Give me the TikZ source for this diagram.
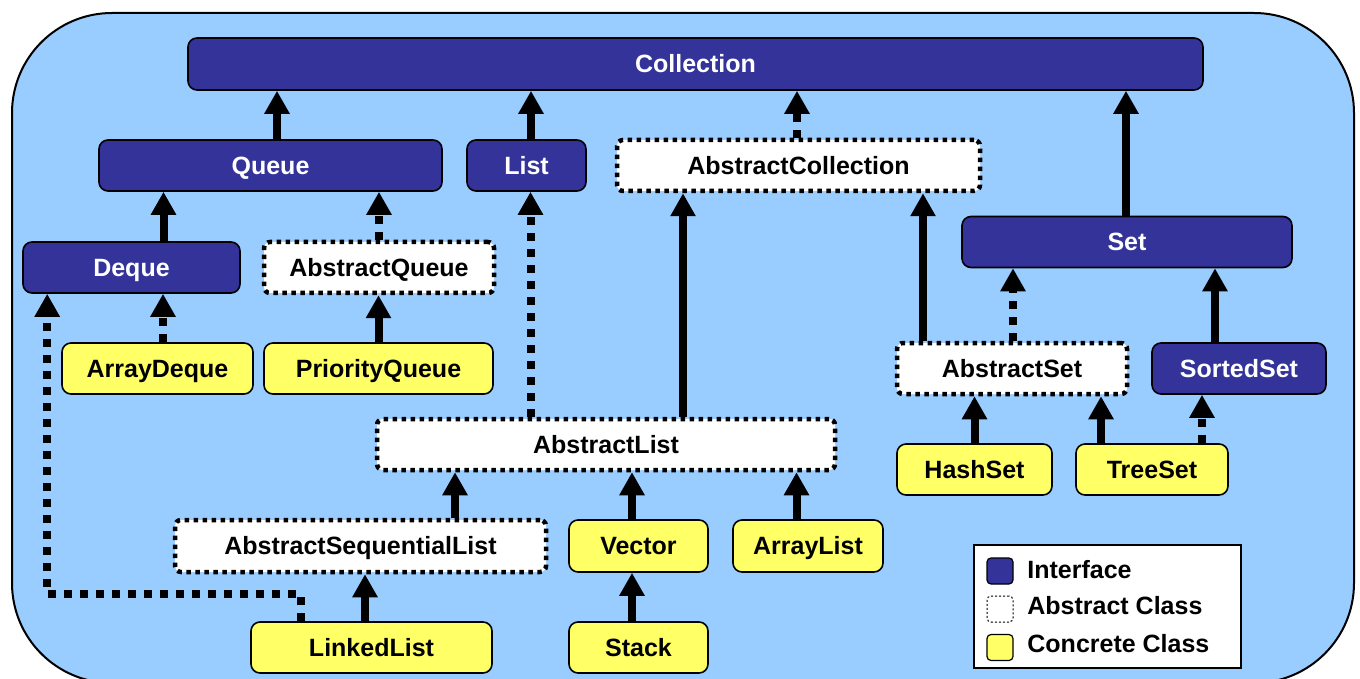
\documentclass[tikz,border=0pt]{standalone}
\usepackage{fontspec}
\setmainfont{Liberation Sans}
\usetikzlibrary{arrows.meta}
\definecolor{bgblue}{HTML}{99CCFF}
\definecolor{ifblue}{HTML}{333399}
\definecolor{conyel}{HTML}{FFFF66}
\newcommand\uparr[4]{\draw[#1] ([xshift=#2]#3.north) coordinate (tmp) -- (tmp |- #4.south);}
\begin{document}
\begin{tikzpicture}[x=0.5pt,y=-0.5pt,
  lbl/.style={inner sep=0pt, font=\fontsize{12.5}{15}\selectfont\bfseries, text height=8.95pt, text depth=0pt},
  box/.style={lbl, rounded corners=4.5pt, minimum height=25.5pt},
  iface/.style={box, draw=black, line width=0.8pt, fill=ifblue, text=white},
  absc/.style={box, draw=black, fill=white, line width=2.25pt, dash pattern=on 2.25pt off 2.25pt, rounded corners=3pt},
  conc/.style={box, draw=black, line width=0.8pt, fill=conyel},
  sar/.style={line width=4pt, -{Triangle[width=12pt,length=11.5pt]}},
  dar/.style={sar, dash pattern=on 4pt off 4pt},
]
\useasboundingbox (0,0) rectangle (1360,679);
\draw[fill=bgblue, line width=1pt, rounded corners=50pt] (12,13) rectangle (1354,683);

% nodes
\node[iface, minimum width=507.5pt, minimum height=26pt] (coll) at (695.5,64) {Collection};
\node[iface, minimum width=171.5pt] (queue) at (270.5,165.5) {Queue};
\node[iface, minimum width=59.5pt] (list) at (526.5,165.5) {List};
\node[absc, minimum width=181.5pt] (abscoll) at (798.5,165.5) {AbstractCollection};
\node[iface, minimum width=165pt] (set) at (1127,242) {Set};
\node[iface, minimum width=108.5pt] (deque) at (131.5,267.5) {Deque};
\node[absc, minimum width=115pt] (absq) at (379,267.5) {AbstractQueue};
\node[conc, minimum width=95.5pt] (arrdq) at (157.5,368.5) {ArrayDeque};
\node[conc, minimum width=114.5pt] (pq) at (378.5,368.5) {PriorityQueue};
\node[absc, minimum width=115pt] (absset) at (1012,368.5) {AbstractSet};
\node[iface, minimum width=87pt] (sorted) at (1239,368.5) {SortedSet};
\node[absc, minimum width=229pt] (abslist) at (606,444.5) {AbstractList};
\node[conc, minimum width=77.5pt] (hash) at (974.5,469.5) {HashSet};
\node[conc, minimum width=76pt] (tree) at (1152,469.5) {TreeSet};
\node[absc, minimum width=185.5pt, minimum height=26pt] (asl) at (360.5,546) {AbstractSequentialList};
\node[conc, minimum width=69.5pt, minimum height=26pt] (vector) at (638.5,546) {Vector};
\node[conc, minimum width=75pt, minimum height=26pt] (arrlist) at (808,546) {ArrayList};
\node[conc, minimum width=120.5pt] (ll) at (371.5,647.5) {LinkedList};
\node[conc, minimum width=69.5pt] (stack) at (638.5,647.5) {Stack};

% connectors
\uparr{sar}{3.25pt}{queue}{coll}
\uparr{sar}{2.25pt}{list}{coll}
\uparr{dar}{-0.75pt}{abscoll}{coll}
\uparr{sar}{-0.5pt}{set}{coll}
\uparr{sar}{16pt}{deque}{queue}
\uparr{dar}{0pt}{absq}{queue}
\uparr{dar}{2.75pt}{arrdq}{deque}
\uparr{sar}{0pt}{pq}{absq}
\uparr{dar}{-37.75pt}{abslist}{list}
\uparr{sar}{38.5pt}{abslist}{abscoll}
\uparr{sar}{-44.5pt}{absset}{abscoll}
\uparr{dar}{0.5pt}{absset}{set}
\uparr{sar}{-12pt}{sorted}{set}
\uparr{sar}{0pt}{hash}{absset}
\uparr{sar}{-25.5pt}{tree}{absset}
\uparr{dar}{25pt}{tree}{sorted}
\uparr{sar}{47.25pt}{asl}{abslist}
\uparr{sar}{-3.25pt}{vector}{abslist}
\uparr{sar}{-5.75pt}{arrlist}{abslist}
\uparr{sar}{-3.25pt}{ll}{asl}
\uparr{sar}{-3.25pt}{stack}{vector}
\draw[dar] ([xshift=25.5pt]ll.north west) -- ++(0,-27) -| ([xshift=12.5pt]deque.south west);

% legend
\node[draw=black, line width=0.8pt, fill=white, minimum width=133.5pt, minimum height=61.5pt, inner sep=0pt] (legend) at (1107.5,606.5) {};
\node[draw=black, line width=0.6pt, fill=ifblue, rounded corners=2pt, minimum size=13pt, inner sep=0pt] (lsi) at (1000,571) {};
\node[draw=black, line width=0.5pt, dash pattern=on 1pt off 1pt, fill=white, rounded corners=2pt, minimum size=13pt, inner sep=0pt] (lsa) at (1000,609) {};
\node[draw=black, line width=0.6pt, fill=conyel, rounded corners=2pt, minimum size=13pt, inner sep=0pt] (lsc) at (1000,647.5) {};
\node[lbl, anchor=west] (lti) at (1027,570) {Interface};
\node[lbl, anchor=west] (lta) at (1027,606) {Abstract Class};
\node[lbl, anchor=west] (ltc) at (1027,643.5) {Concrete Class};
\end{tikzpicture}
\end{document}
